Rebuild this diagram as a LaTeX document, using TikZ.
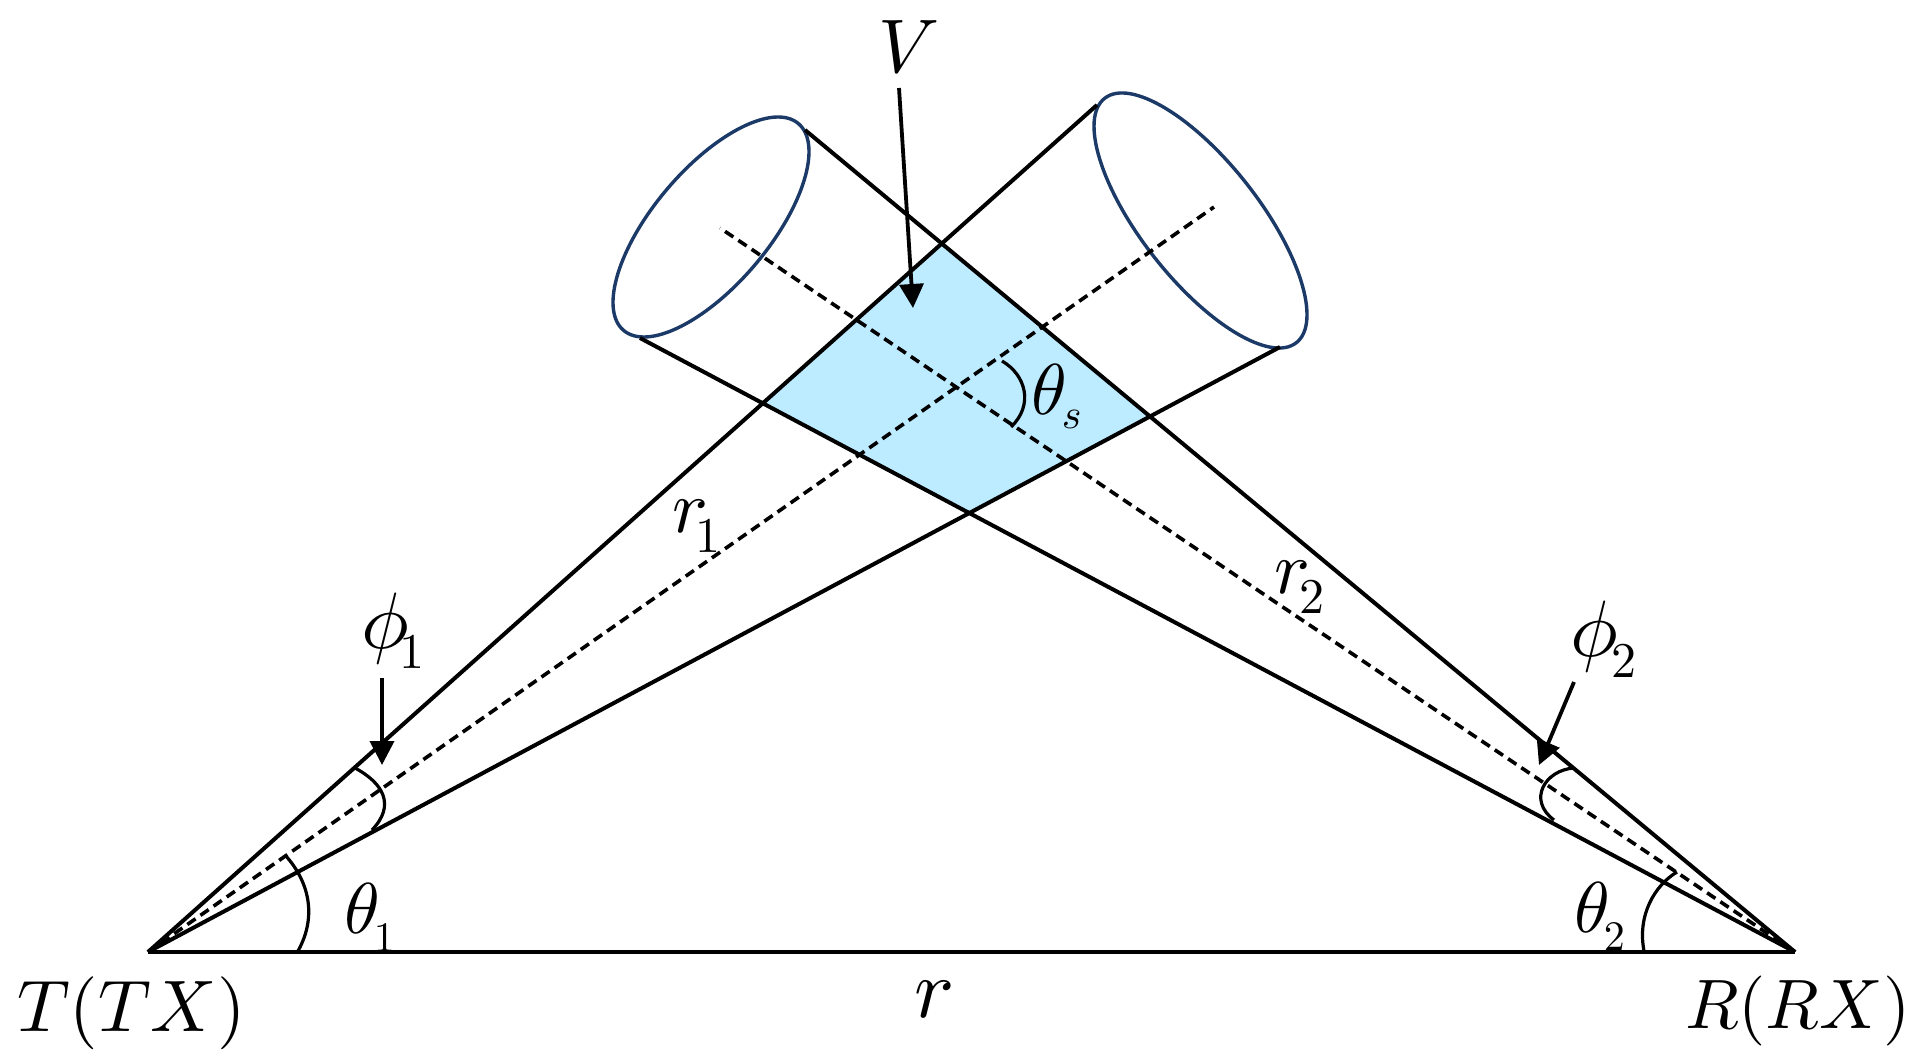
\documentclass[tikz,border=0pt]{standalone}
\usepackage{graphicx}
\usetikzlibrary{arrows.meta,calc}
\definecolor{beamblue}{HTML}{BDEBFF}
\definecolor{rimblue}{HTML}{1B3A68}
\newcommand{\mlab}[6]{\scalebox{#2}{$#1$}\kern#5pt\raisebox{-#6pt}{\scalebox{#4}{$#3$}}}
\tikzset{
  beam/.style={line width=4pt,black},
  axisline/.style={line width=3.6pt,black,dash pattern=on 10pt off 6pt},
  rim/.style={line width=3.4pt,rimblue},
  pointer/.style={line width=3.8pt,black,-{Triangle[length=24pt,width=24pt]}},
  anglearc/.style={line width=3.2pt,black},
  txt/.style={anchor=base west,inner sep=0pt,outer sep=0pt,text=black}
}
\begin{document}
\begin{tikzpicture}[x=1pt,y=-1pt]
\useasboundingbox (0,0) rectangle (1917,1062);
\fill[white] (0,0) rectangle (1917,1062);
\coordinate (T) at (148,952);
\coordinate (R) at (1795,952);
\coordinate (TU) at (1097,105);
\coordinate (TL) at (1280,347);
\coordinate (RU) at (805,130);
\coordinate (RL) at (640,338);
\coordinate (TA) at (1214,207);
\coordinate (RA) at (720,228);
% overlap region
\coordinate (Qt) at (intersection of T--TU and R--RU);
\coordinate (Ql) at (intersection of T--TU and R--RL);
\coordinate (Qb) at (intersection of T--TL and R--RL);
\coordinate (Qr) at (intersection of T--TL and R--RU);
\fill[beamblue] (Qt) -- (Qr) -- (Qb) -- (Ql) -- cycle;
% rims
\draw[rim,rotate around={49.8:(711,227)}] (711,227) ellipse [x radius=135.4pt,y radius=58pt];
\draw[rim,rotate around={-51.9:(1200.5,220.5)}] (1200.5,220.5) ellipse [x radius=155.3pt,y radius=59pt];
% beams
\draw[beam] (T) -- (TU);
\draw[beam] (T) -- (TL);
\draw[beam] (R) -- (RU);
\draw[beam] (R) -- (RL);
\draw[line width=4.8pt] (T) -- (R);
\draw[axisline] (T) -- (TA);
\draw[axisline] (R) -- (RA);
% angle arcs
\coordinate (a1s) at (285,855); \coordinate (a1e) at (298,951);
\draw[anglearc] (a1s) .. controls (308,880) and (318,915) .. (a1e);
\coordinate (p1s) at (355,768); \coordinate (p1e) at (372,830);
\draw[anglearc] (p1s) .. controls (383,783) and (396,805) .. (p1e);
\coordinate (a2s) at (1677,872); \coordinate (a2e) at (1644,951);
\draw[anglearc] (a2s) .. controls (1655,885) and (1637,915) .. (a2e);
\coordinate (p2s) at (1574,768); \coordinate (p2e) at (1554,820);
\draw[anglearc] (p2s) .. controls (1545,770) and (1527,800) .. (p2e);
\coordinate (tss) at (1002,361); \coordinate (tse) at (1011,427);
\draw[anglearc] (tss) .. controls (1026,375) and (1034,405) .. (tse);
% pointers
\coordinate (vs) at (899,88); \coordinate (ve) at (913,308);
\draw[pointer] (vs) -- (ve);
\coordinate (f1s) at (382,678); \coordinate (f1e) at (382,765);
\draw[pointer] (f1s) -- (f1e);
\coordinate (f2s) at (1574,682); \coordinate (f2e) at (1539,765);
\draw[pointer] (f2s) -- (f2e);
% labels
\node[txt] (lV) at (878,73) {\scalebox{7.6}{$V$}};
\node[txt] (lTs) at (1031,414) {\mlab{\theta}{7.2}{s}{4.2}{-5}{14}};
\node[txt] (lr1) at (672,532) {\mlab{r}{7.5}{\mathrm{1}}{5}{-12}{20}};
\node[txt] (lr2) at (1274,593) {\mlab{r}{7.5}{\mathrm{2}}{5}{-10}{20}};
\node[txt] (lp1) at (361,648) {\mlab{\phi}{8}{\mathrm{1}}{5}{-9}{20}};
\node[txt] (lp2) at (1570,656) {\mlab{\phi}{8}{\mathrm{2}}{5}{-6}{21}};
\node[txt] (lt1) at (344,933) {\mlab{\theta}{7.2}{\mathrm{1}}{4.2}{-6}{18}};
\node[txt] (lt2) at (1574,932) {\mlab{\theta}{7.2}{\mathrm{2}}{4.2}{-6}{18}};
\node[txt] (lr) at (914,1017) {\scalebox{8.4}{$r$}};
\node[txt] (lT) at (17,1031) {\scalebox{7.3}{$T(TX)$}};
\node[txt] (lR) at (1685,1028) {\scalebox{7}{$R(RX)$}};
\end{tikzpicture}
\end{document}
